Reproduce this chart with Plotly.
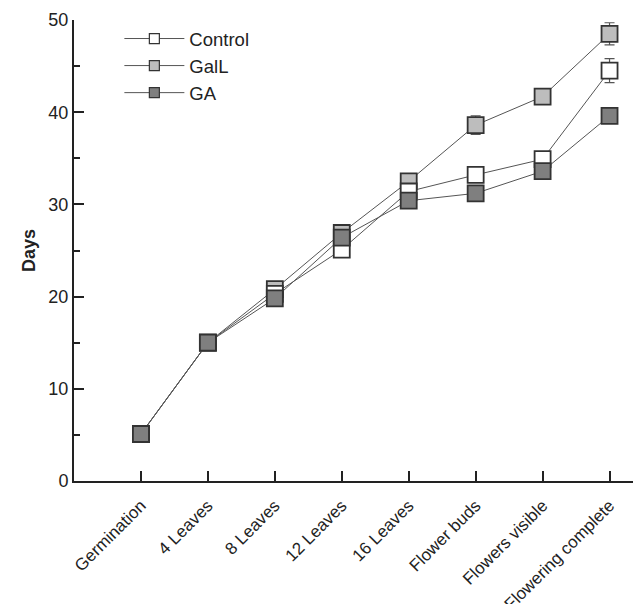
import plotly.graph_objects as go

stages = ["Germination", "4 Leaves", "8 Leaves", "12 Leaves", "16 Leaves",
          "Flower buds", "Flowers visible", "Flowering complete"]
control = [5.1, 15.0, 20.3, 25.1, 31.4, 33.2, 34.9, 44.5]
control_err = [0.2, 0.2, 0.3, 0.3, 0.4, 0.5, 0.5, 1.3]
gall = [5.1, 15.0, 20.8, 26.9, 32.5, 38.6, 41.7, 48.5]
gall_err = [0.2, 0.2, 0.3, 0.4, 0.5, 1.0, 0.6, 1.2]
ga = [5.1, 15.0, 19.8, 26.4, 30.4, 31.2, 33.6, 39.6]
ga_err = [0.2, 0.2, 0.3, 0.3, 0.4, 0.5, 0.5, 0.6]

names = ["Control", "GalL", "GA"]
fills = ["#ffffff", "#bdbdbd", "#7f7f7f"]
series = [control, gall, ga]
errors = [control_err, gall_err, ga_err]

xidx = list(range(len(stages)))
fig = go.Figure()
# draw order: GalL, Control, GA so GA sits on top like the reference
for k in [1, 0, 2]:
    fig.add_trace(go.Scatter(
        x=xidx, y=series[k], mode="lines+markers", name=names[k], showlegend=False,
        line=dict(color="#555555", width=1),
        marker=dict(symbol="square", size=16, color=fills[k],
                    line=dict(color="#333333", width=1.8)),
        error_y=dict(type="data", array=errors[k], visible=True,
                     color="#555555", thickness=1.2, width=5),
    ))
for k in range(3):
    fig.add_trace(go.Scatter(
        x=[None], y=[None], mode="lines+markers", name=names[k],
        line=dict(color="#555555", width=1),
        marker=dict(symbol="square", size=10, color=fills[k],
                    line=dict(color="#333333", width=1.2)),
    ))

font = "Liberation Sans, Arial, sans-serif"
fig.update_layout(
    width=633, height=596,
    margin=dict(l=66, r=0, t=12, b=123, autoexpand=False),
    paper_bgcolor="white", plot_bgcolor="white",
    font=dict(family=font, size=18, color="#222222"),
    showlegend=True,
    legend=dict(x=0.08, y=1.0, xanchor="left", yanchor="top",
                bgcolor="rgba(0,0,0,0)", font=dict(size=18.5), tracegroupgap=0,
                itemwidth=60),
    xaxis=dict(range=[-1, 7.47], tickmode="array", tickvals=xidx, ticktext=stages,
               tickangle=-45, ticks="inside", ticklen=10, tickwidth=2, tickcolor="#222222",
               showline=True, linecolor="#222222", linewidth=2, showgrid=False,
               zeroline=False, tickfont=dict(size=17), automargin=False,
               ticklabelstandoff=6),
    yaxis=dict(range=[0, 50], tickvals=[0, 10, 20, 30, 40, 50],
               ticks="inside", ticklen=10, tickwidth=2, tickcolor="#222222",
               minor=dict(tickvals=[5, 15, 25, 35, 45], ticks="inside", ticklen=6,
                          tickwidth=2, tickcolor="#222222"),
               showline=True, linecolor="#222222", linewidth=2, showgrid=False,
               zeroline=False, tickfont=dict(size=18), automargin=False,
               title=dict(text="<b>Days</b>", font=dict(size=18), standoff=8)),
)
fig.write_html("out.html")
